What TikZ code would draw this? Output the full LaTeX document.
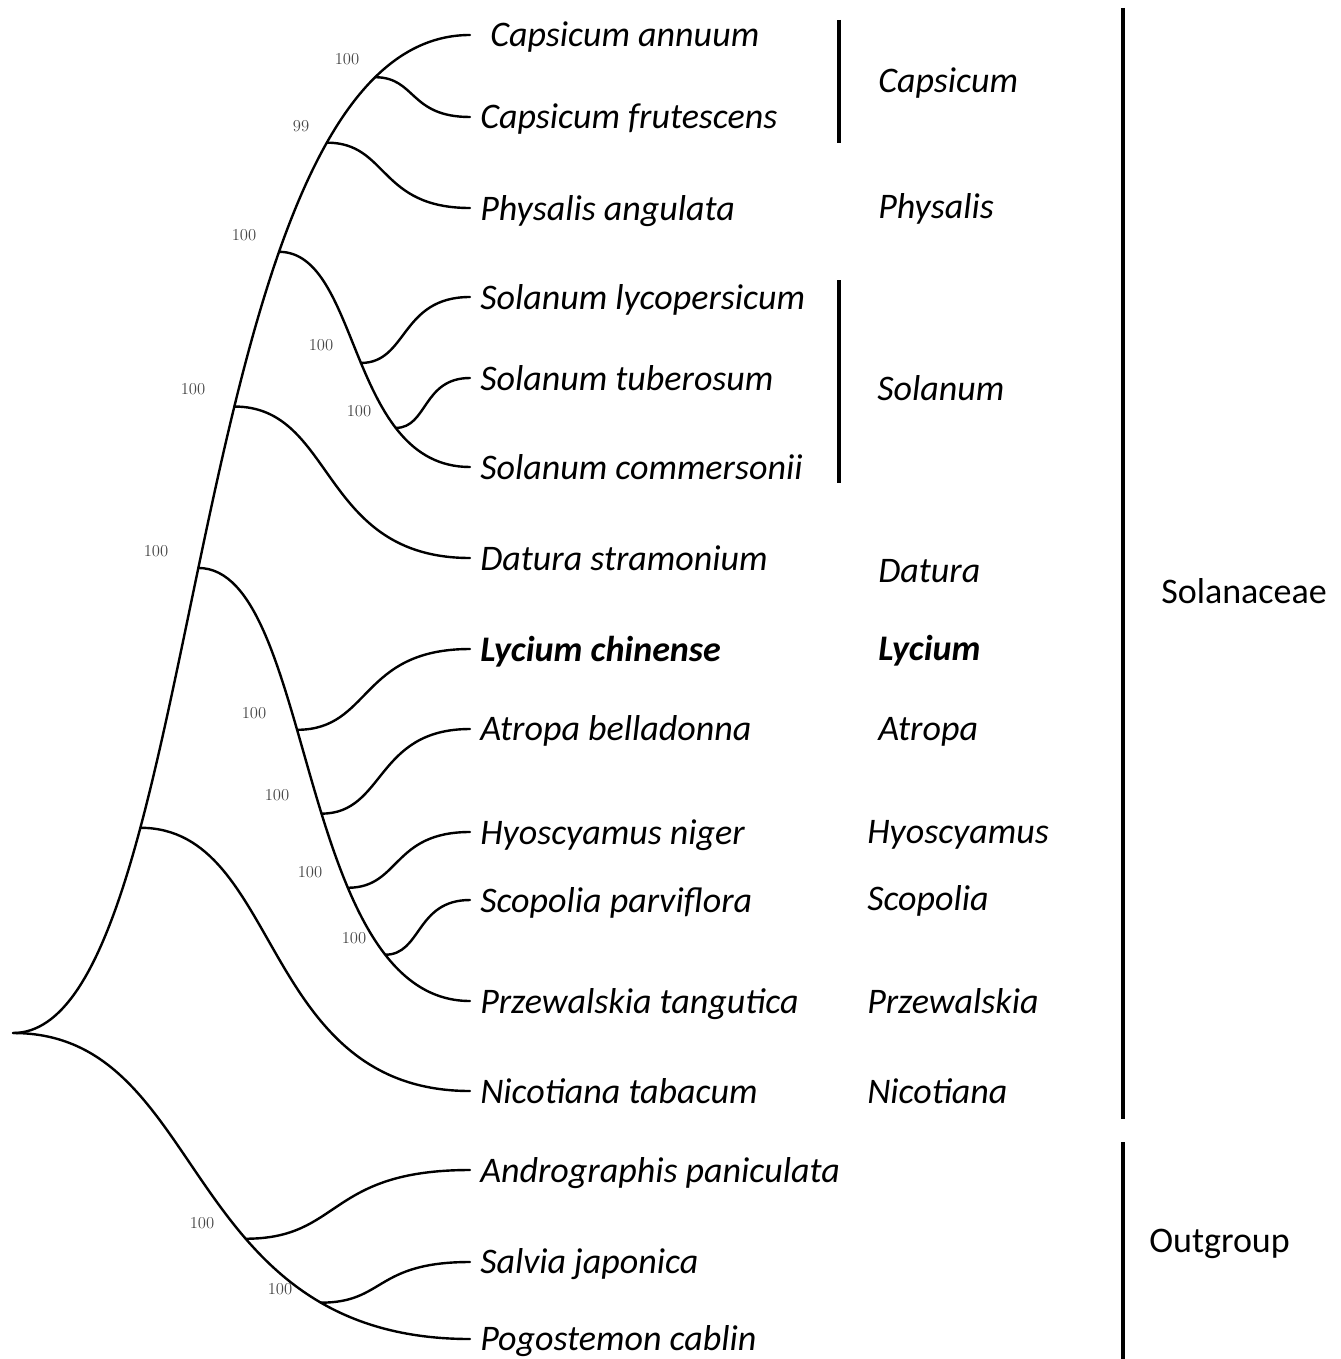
\documentclass[tikz,border=0pt]{standalone}
\usepackage{fontspec}
\newfontfamily\calfont{Carlito}
\usetikzlibrary{calc}

\begin{document}
\begin{tikzpicture}[x=0.75pt,y=0.75pt,yscale=-1,xscale=1,
  branch/.style={to path={.. controls ($(\tikztostart)!0.43!(\tikztotarget|-\tikztostart)$) and ($(\tikztotarget)!0.64!(\tikztostart|-\tikztotarget)$) .. (\tikztotarget) \tikztonodes}},
  tree/.style={line width=1.8pt, line cap=round},
  bar/.style={line width=2.6pt},
  sp/.style={anchor=base west, inner sep=0pt, font=\calfont\itshape\fontsize{27}{32}\selectfont},
  gen/.style={anchor=base west, inner sep=0pt, font=\calfont\itshape\fontsize{27}{32}\selectfont},
  fam/.style={anchor=base west, inner sep=0pt, font=\calfont\fontsize{27}{32}\selectfont},
  boot/.style={inner sep=0pt, text=black!72, font=\fontsize{12.5}{14}\selectfont}]
\useasboundingbox (0,0) rectangle (1341,1359);

%Tips
\coordinate (root) at (13,1033);
\coordinate (capA) at (470,35);
\coordinate (capF) at (470,117);
\coordinate (phyA) at (470,208);
\coordinate (slyc) at (470,297);
\coordinate (stub) at (470,378);
\coordinate (scom) at (470,467);
\coordinate (datS) at (470,558);
\coordinate (lycC) at (470,649);
\coordinate (atrB) at (470,729);
\coordinate (hyoN) at (470,832);
\coordinate (scoP) at (470,900);
\coordinate (przT) at (470,1001);
\coordinate (nicT) at (470,1091);
\coordinate (andP) at (470,1170);
\coordinate (salJ) at (470,1262);
\coordinate (pogC) at (470,1339);

%Curve Lines: Solanaceae spine
\draw [tree] (root) to[branch] coordinate[pos=0.2917] (nSol) coordinate[pos=0.4773] (nBel) coordinate[pos=0.586] (nDat) coordinate[pos=0.699] (nSlm) coordinate[pos=0.796] (nPhy) coordinate[pos=0.876] (nCap) (capA);
%Curve Lines: Lycium group spine
\draw [tree] (nBel) to[branch] coordinate[pos=0.415] (nLyc) coordinate[pos=0.545] (nAtr) coordinate[pos=0.665] (nHyo) coordinate[pos=0.797] (nSco) (przT);
%Curve Lines: Solanum spine
\draw [tree] (nSlm) to[branch] coordinate[pos=0.511] (nSly) coordinate[pos=0.728] (nStu) (scom);
%Curve Lines: outgroup spine
\draw [tree] (root) to[branch] coordinate[pos=0.617] (nOut) coordinate[pos=0.785] (nPog) (pogC);

%Curve Lines: side branches
\draw [tree] (nCap) to[branch] (capF);
\draw [tree] (nPhy) to[branch] (phyA);
\draw [tree] (nSly) to[branch] (slyc);
\draw [tree] (nStu) to[branch] (stub);
\draw [tree] (nDat) to[branch] (datS);
\draw [tree] (nLyc) to[branch] (lycC);
\draw [tree] (nAtr) to[branch] (atrB);
\draw [tree] (nHyo) to[branch] (hyoN);
\draw [tree] (nSco) to[branch] (scoP);
\draw [tree] (nSol) to[branch] (nicT);
\draw [tree] (nOut) to[branch] (andP);
\draw [tree] (nPog) to[branch] (salJ);

% Support values
\node [boot] (bCap) at (347,59) {100};
\node [boot] (bPhy) at (301,126) {99};
\node [boot] (bSlm) at (244,235) {100};
\node [boot] (bSly) at (321,345) {100};
\node [boot] (bStu) at (359,411) {100};
\node [boot] (bDat) at (193,389) {100};
\node [boot] (bBel) at (156,551) {100};
\node [boot] (bLyc) at (254,713) {100};
\node [boot] (bAtr) at (277,795) {100};
\node [boot] (bHyo) at (310,872) {100};
\node [boot] (bSco) at (354,938) {100};
\node [boot] (bOut) at (202,1223) {100};
\node [boot] (bPog) at (280,1289) {100};

% Text Node: species
\node [sp] (tCapA) at (490,47) {Capsicum annuum};
\node [sp] (tCapF) at (480,129) {Capsicum frutescens};
\node [sp] (tPhyA) at (480,220) {Physalis angulata};
\node [sp] (tSlyc) at (480,309) {Solanum lycopersicum};
\node [sp] (tStub) at (480,390) {Solanum tuberosum};
\node [sp] (tScom) at (480,479) {Solanum commersonii};
\node [sp] (tDatS) at (480,570) {Datura stramonium};
\node [sp] (tLycC) at (480,661) {\bfseries Lycium chinense};
\node [sp] (tAtrB) at (480,740) {Atropa belladonna};
\node [sp] (tHyoN) at (480,844) {Hyoscyamus niger};
\node [sp] (tScoP) at (480,912) {Scopolia parviflora};
\node [sp] (tPrzT) at (480,1013) {Przewalskia tangutica};
\node [sp] (tNicT) at (480,1103) {Nicotiana tabacum};
\node [sp] (tAndP) at (480,1182) {Andrographis paniculata};
\node [sp] (tSalJ) at (480,1273) {Salvia japonica};
\node [sp] (tPogC) at (480,1350) {Pogostemon cablin};

% Text Node: genera
\node [gen] (gCap) at (878,93) {Capsicum};
\node [gen] (gPhy) at (878,218) {Physalis};
\node [gen] (gSol) at (877,400) {Solanum};
\node [gen] (gDat) at (878,582) {Datura};
\node [gen] (gLyc) at (878,660) {\bfseries Lycium};
\node [gen] (gAtr) at (878,740) {Atropa};
\node [gen] (gHyo) at (867,843) {Hyoscyamus};
\node [gen] (gSco) at (867,910) {Scopolia};
\node [gen] (gPrz) at (867,1013) {Przewalskia};
\node [gen] (gNic) at (867,1103) {Nicotiana};

% Text Node: families
\node [fam] (fSol) at (1161,603) {Solanaceae};
\node [fam] (fOut) at (1149,1252) {Outgroup};

%Straight Lines: group bars
\draw [bar] (839,20) -- (839,143);
\draw [bar] (839,280) -- (839,483);
\draw [bar] (1123,8) -- (1123,1119);
\draw [bar] (1123,1142) -- (1123,1359);

\end{tikzpicture}
\end{document}
